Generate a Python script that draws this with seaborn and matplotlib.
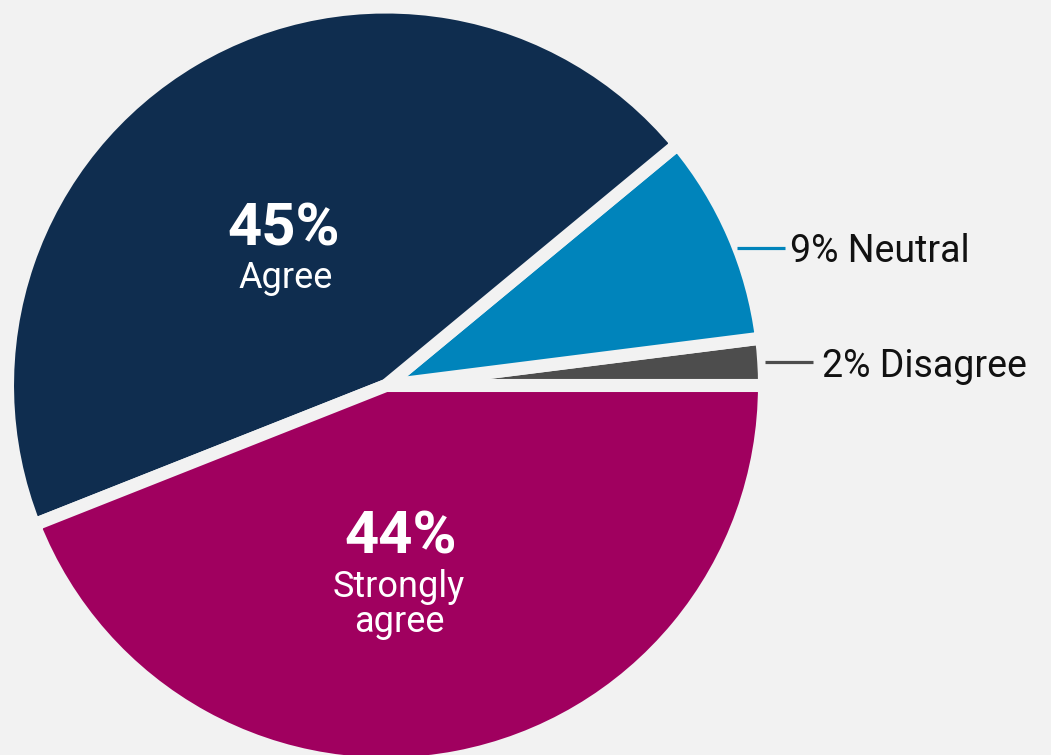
import matplotlib
matplotlib.use("Agg")
import matplotlib.pyplot as plt
import seaborn as sns

# Survey responses
categories = ["Disagree", "Neutral", "Agree", "Strongly agree"]
shares = [2, 9, 45, 44]
colors = ["#4d4d4d", "#0084bb", "#0f2d4f", "#a0005f"]

BG = "#f2f2f2"

sns.set_theme(style="white")
plt.rcParams["font.family"] = ["Roboto", "DejaVu Sans"]

W, H = 1051, 755
fig = plt.figure(figsize=(W / 100, H / 100), dpi=100, facecolor=BG)
ax = fig.add_axes([0, 0, 1, 1])
ax.set_facecolor(BG)

center = (386, 369.5)
radius = 378.5
ax.pie(
    shares,
    colors=colors,
    startangle=0,
    counterclock=True,
    center=center,
    radius=radius,
    wedgeprops=dict(edgecolor=BG, linewidth=9.4),
    frame=True,
)
ax.set_xlim(0, W)
ax.set_ylim(0, H)
ax.set_aspect("equal")
ax.axis("off")

# Labels inside the two large slices
big = dict(color="white", fontsize=43, fontweight="bold", ha="center", va="baseline")
small = dict(color="white", fontsize=26, ha="center", va="baseline")
ax.text(284, 510, f"{shares[2]}%", **big)
ax.text(286, 467, categories[2], **small)
ax.text(401, 202, f"{shares[3]}%", **big)
ax.text(399, 158, "Strongly", **small)
ax.text(399, 123, "agree", **small)

# Leader lines and labels for the two small slices
out = dict(color="#111111", fontsize=27, ha="left", va="baseline")
ax.plot([737, 785], [507, 507], color=colors[1], lw=2.3, solid_capstyle="butt")
ax.text(790, 493, f"{shares[1]}% {categories[1]}", **out)
ax.plot([765, 813], [393, 393], color=colors[0], lw=2.3, solid_capstyle="butt")
ax.text(822, 378, f"{shares[0]}% {categories[0]}", **out)

fig.savefig("out.png", dpi=100, facecolor=BG)
